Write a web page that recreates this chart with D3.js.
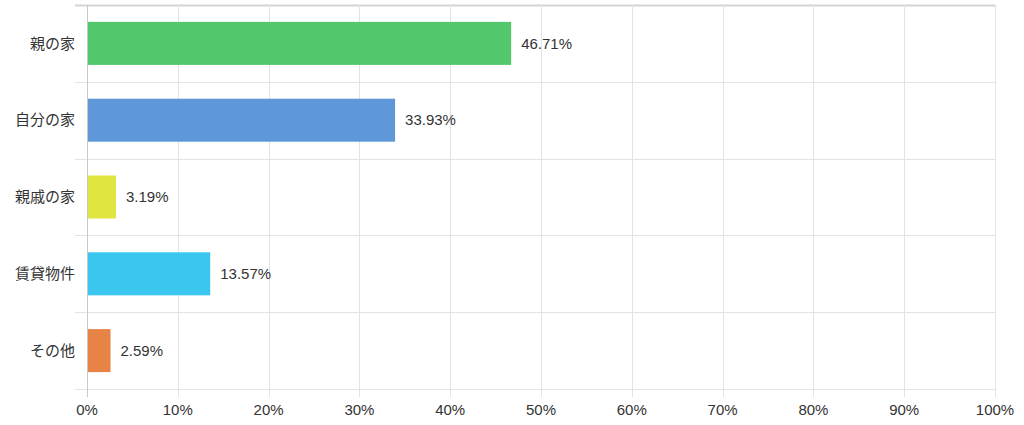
<!DOCTYPE html>
<html><head><meta charset="utf-8">
<script src="https://cdn.jsdelivr.net/npm/d3@7"></script>
<style>
html,body{margin:0;padding:0;background:#fff;}
svg{display:block;font-family:"Liberation Sans","Noto Sans CJK JP",sans-serif;}
</style></head><body>
<svg id="c" width="1024" height="425"></svg>
<script>
const categories = ["親の家","自分の家","親戚の家","賃貸物件","その他"];
const values = [46.71, 33.93, 3.19, 13.57, 2.59];
const colors = ["#4cc566","#5a95d8","#e0e43a","#35c4ef","#e57f3f"];
const xTicks = [0,10,20,30,40,50,60,70,80,90,100];

const svg = d3.select("#c");
const mLeft = 87, mRight = 995, mTop = 5, mBottom = 389;
const x = d3.scaleLinear().domain([0,100]).range([mLeft,mRight]);
const y = d3.scaleBand().domain(categories).range([mTop,mBottom]).paddingInner(0.44).paddingOuter(0.22);
const yb = d3.scaleBand().domain(categories).range([mTop,mBottom]);

// horizontal grid lines (band boundaries)
const hLines = categories.map(c=>yb(c)).concat([mBottom]);
svg.append("g").selectAll("line").data(hLines).join("line")
  .attr("x1", mLeft-12).attr("x2", mRight)
  .attr("y1", d=>Math.round(d)+0.5).attr("y2", d=>Math.round(d)+0.5)
  .attr("stroke", (d,i)=> i===0 ? "#d4d4d4" : "#e3e3e3")
  .attr("stroke-width", (d,i)=> i===0 ? 2 : 1);

// vertical grid lines
svg.append("g").selectAll("line").data(xTicks).join("line")
  .attr("x1", d=>Math.round(x(d))+0.5).attr("x2", d=>Math.round(x(d))+0.5)
  .attr("y1", mTop).attr("y2", mBottom+8)
  .attr("stroke", d=> d===0 ? "#c8c8c8" : "#e3e3e3");

// bars
svg.append("g").selectAll("rect").data(values).join("rect")
  .attr("x", x(0)+1).attr("y", (d,i)=>y(categories[i]))
  .attr("width", d=>x(d)-x(0)-1).attr("height", y.bandwidth())
  .attr("fill", (d,i)=>colors[i]).attr("fill-opacity", 0.97);

// value labels
svg.append("g").selectAll("text").data(values).join("text")
  .attr("x", d=>x(d)+10).attr("y", (d,i)=>y(categories[i])+y.bandwidth()/2)
  .attr("dy","0.35em").attr("font-size",15).attr("fill","#333")
  .text(d=>d.toFixed(2)+"%");

// category labels
svg.append("g").selectAll("text").data(categories).join("text")
  .attr("x", mLeft-12).attr("y", d=>y(d)+y.bandwidth()/2)
  .attr("dy","0.35em").attr("text-anchor","end").attr("font-size",15).attr("fill","#333")
  .text(d=>d);

// x tick labels
svg.append("g").selectAll("text").data(xTicks).join("text")
  .attr("x", d=>x(d)).attr("y", 410)
  .attr("dy","0.35em").attr("text-anchor","middle").attr("font-size",15).attr("fill","#333")
  .text(d=>d+"%");
</script></body></html>
